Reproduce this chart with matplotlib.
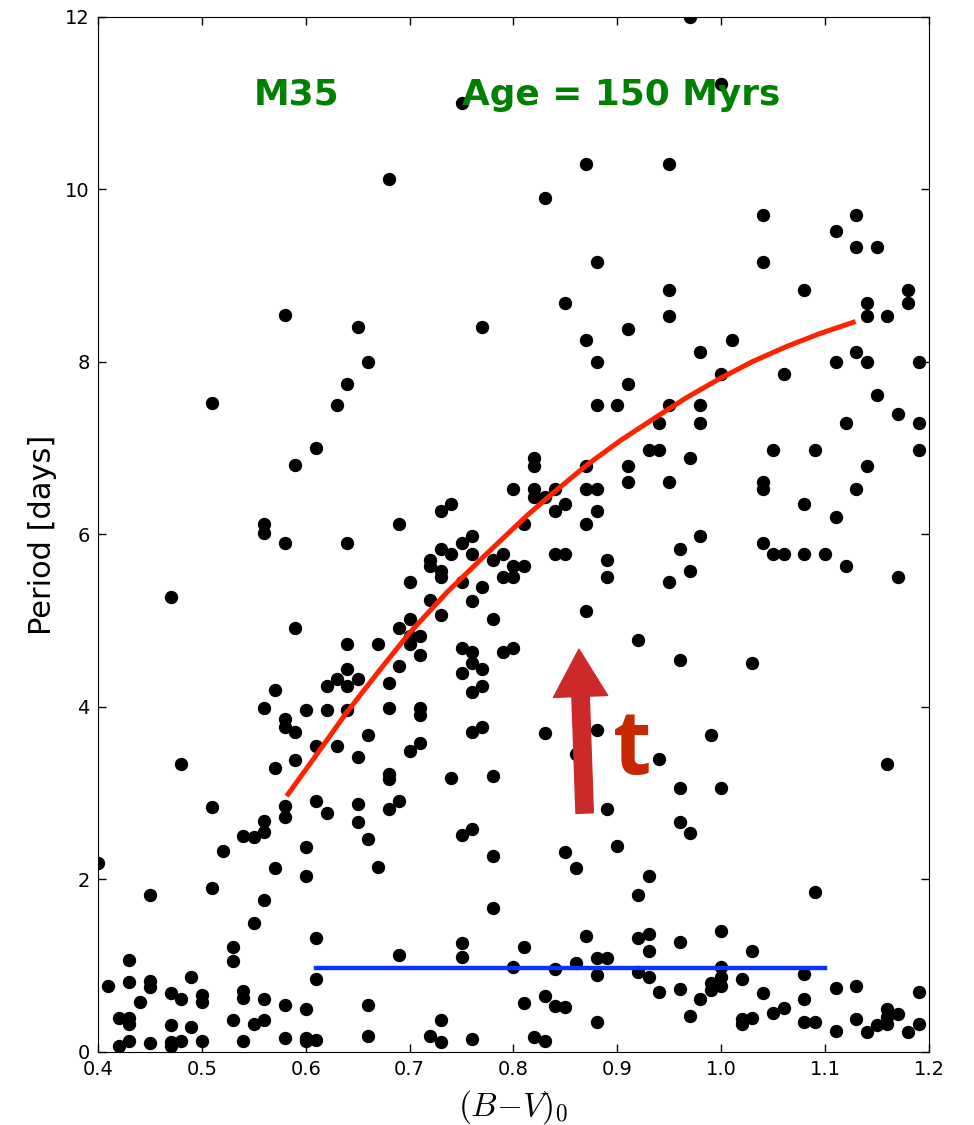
import matplotlib
matplotlib.use('Agg')
import matplotlib.pyplot as plt
from matplotlib.patches import FancyArrowPatch, ArrowStyle


plt.rcParams['mathtext.fontset'] = 'cm'

# M35 rotation periods vs. dereddened colour
bv = [
    0.75, 0.68, 0.58, 0.65, 0.77, 0.66,
    0.97, 1.00, 0.87, 0.95, 0.83, 1.04, 1.13, 1.11, 1.13, 1.15, 0.88, 1.04,
    0.85, 0.95, 1.08, 1.18, 1.14, 1.18, 0.95, 1.14, 1.16, 0.91, 0.87, 1.01,
    0.98, 1.13, 0.88, 1.11, 1.14, 1.19,
    0.64, 0.51, 0.63, 0.61, 0.59, 0.56, 0.56, 0.58, 0.64, 0.69, 0.73, 0.74,
    0.47, 0.75, 0.76, 0.73, 0.74, 0.76, 0.72, 0.72, 0.73, 0.73, 0.70, 0.75,
    0.77, 0.79, 0.78, 0.79, 0.76, 0.72, 0.73, 0.59, 0.70, 0.69, 0.78, 0.70,
    0.71, 0.70, 0.64, 0.67, 0.71, 0.75, 0.76, 0.76, 0.75, 0.77, 0.76, 0.77,
    0.79, 0.69, 0.68, 0.64, 0.63, 0.65, 0.62, 0.64, 0.57, 0.56, 0.60, 0.62,
    0.64, 0.68, 0.71,
    1.00, 1.06, 0.91, 1.15, 0.88, 0.90, 0.95, 0.98, 1.17, 0.94, 0.98, 1.12,
    1.19, 0.93, 0.94, 1.05, 1.09, 1.19, 0.97, 1.14, 0.91, 0.91, 0.95, 1.04,
    1.04, 1.13, 0.82, 0.82, 0.87, 0.80, 0.82, 0.82, 0.83, 0.84, 0.87, 0.88,
    0.84, 0.85, 0.88, 0.87, 0.81, 1.08, 1.11, 0.98, 0.96, 1.04, 1.05, 1.06,
    1.08, 1.10, 1.12, 1.17, 0.97, 0.95, 0.89, 0.89, 0.84, 0.85, 0.80, 0.81,
    0.80, 0.87, 0.92, 0.96, 1.03, 0.80,
    0.58, 0.58, 0.59, 0.71, 0.61, 0.63, 0.66, 0.59, 0.57, 0.65, 0.70, 0.71,
    0.76, 0.77, 0.74, 0.78, 0.68, 0.68, 0.48, 0.51, 0.58, 0.58, 0.61, 0.62,
    0.65, 0.65, 0.68, 0.69, 0.66, 0.56, 0.56, 0.54, 0.55, 0.52, 0.60, 0.57,
    0.67, 0.60, 0.75, 0.76, 0.78, 0.78, 0.40, 0.51, 0.45, 0.56, 0.55, 0.61,
    0.53, 0.53, 0.43, 0.69, 0.75, 0.75, 0.61, 0.41, 0.43, 0.45, 0.45, 0.49,
    0.44, 0.47, 0.48, 0.50, 0.50, 0.54, 0.54, 0.56, 0.58, 0.60, 0.66, 0.42,
    0.43, 0.43, 0.47, 0.49, 0.53, 0.55, 0.56, 0.73, 0.42, 0.43, 0.45, 0.47,
    0.47, 0.48, 0.50, 0.54, 0.58, 0.60, 0.60, 0.61, 0.66, 0.72, 0.73, 0.76,
    0.83, 0.88, 0.99, 0.86, 0.94, 1.16, 0.96, 1.00, 0.89, 0.96, 0.97, 0.90,
    0.85, 0.86, 0.93, 0.92, 1.09, 0.87, 0.92, 0.93, 0.93, 0.96, 1.00, 1.03,
    0.81, 0.80, 0.84, 0.86, 0.88, 0.89, 0.88, 0.92, 0.93, 1.00, 1.00, 0.99,
    0.99, 1.00, 1.02, 1.08, 0.94, 0.96, 0.98, 1.04, 1.11, 1.13, 1.19, 0.81,
    0.83, 0.84, 0.85, 1.08, 1.06, 1.05, 0.97, 1.02, 1.02, 1.03, 0.88, 1.08,
    1.09, 1.13, 1.16, 1.17, 1.16, 1.16, 1.15, 1.19, 1.11, 1.14, 1.18, 0.82,
    0.83,
]
period = [
    11.00, 10.12, 8.54, 8.40, 8.40, 8.00,
    12.00, 11.22, 10.30, 10.30, 9.90, 9.70, 9.70, 9.52, 9.33, 9.33, 9.16, 9.16,
    8.68, 8.83, 8.83, 8.84, 8.68, 8.68, 8.53, 8.53, 8.53, 8.38, 8.25, 8.25,
    8.12, 8.12, 8.00, 8.00, 8.00, 8.00,
    7.75, 7.52, 7.50, 7.00, 6.80, 6.12, 6.02, 5.90, 5.90, 6.12, 6.27, 6.35,
    5.28, 5.90, 5.98, 5.83, 5.77, 5.77, 5.70, 5.63, 5.58, 5.51, 5.45, 5.45,
    5.39, 5.77, 5.70, 5.51, 5.23, 5.24, 5.07, 4.92, 5.02, 4.92, 5.02, 4.82,
    4.82, 4.73, 4.73, 4.73, 4.60, 4.68, 4.64, 4.51, 4.39, 4.44, 4.17, 4.24,
    4.64, 4.48, 4.28, 4.44, 4.32, 4.32, 4.24, 4.24, 4.20, 3.99, 3.96, 3.96,
    3.96, 3.99, 3.99,
    7.86, 7.86, 7.75, 7.62, 7.50, 7.50, 7.50, 7.50, 7.40, 7.29, 7.29, 7.29,
    7.29, 6.98, 6.98, 6.98, 6.98, 6.98, 6.89, 6.79, 6.79, 6.61, 6.61, 6.61,
    6.53, 6.53, 6.89, 6.79, 6.79, 6.53, 6.53, 6.44, 6.44, 6.53, 6.53, 6.53,
    6.27, 6.35, 6.27, 6.12, 6.12, 6.35, 6.20, 5.98, 5.83, 5.90, 5.77, 5.77,
    5.77, 5.77, 5.63, 5.51, 5.58, 5.45, 5.70, 5.51, 5.77, 5.77, 5.63, 5.63,
    5.51, 5.11, 4.78, 4.55, 4.51, 4.68,
    3.86, 3.77, 3.71, 3.91, 3.55, 3.55, 3.68, 3.38, 3.29, 3.42, 3.49, 3.58,
    3.71, 3.77, 3.18, 3.20, 3.22, 3.17, 3.34, 2.84, 2.85, 2.73, 2.91, 2.77,
    2.88, 2.67, 2.82, 2.91, 2.47, 2.68, 2.55, 2.50, 2.49, 2.33, 2.38, 2.13,
    2.15, 2.04, 2.52, 2.59, 2.27, 1.67, 2.19, 1.90, 1.82, 1.76, 1.50, 1.32,
    1.22, 1.06, 1.07, 1.12, 1.26, 1.10, 0.85, 0.77, 0.81, 0.82, 0.75, 0.87,
    0.58, 0.68, 0.62, 0.66, 0.58, 0.71, 0.63, 0.61, 0.54, 0.50, 0.54, 0.39,
    0.39, 0.32, 0.31, 0.29, 0.37, 0.32, 0.37, 0.37, 0.07, 0.13, 0.10, 0.12,
    0.07, 0.13, 0.13, 0.13, 0.16, 0.16, 0.13, 0.14, 0.19, 0.19, 0.12, 0.15,
    3.70, 3.73, 3.68, 3.46, 3.40, 3.34, 3.06, 3.06, 2.82, 2.67, 2.54, 2.39,
    2.32, 2.13, 2.04, 1.82, 1.85, 1.35, 1.32, 1.37, 1.17, 1.28, 1.40, 1.17,
    1.22, 0.99, 0.96, 1.03, 1.09, 1.09, 0.89, 0.93, 0.87, 0.99, 0.87, 0.80,
    0.72, 0.76, 0.85, 0.90, 0.70, 0.73, 0.61, 0.68, 0.74, 0.76, 0.69, 0.57,
    0.65, 0.53, 0.52, 0.61, 0.51, 0.45, 0.42, 0.38, 0.32, 0.39, 0.35, 0.35,
    0.35, 0.38, 0.50, 0.44, 0.41, 0.32, 0.31, 0.32, 0.24, 0.23, 0.23, 0.17,
    0.13,
]

# gyrochrone traced through the slow-rotator sequence
gyro_bv = [0.583, 0.607, 0.639, 0.672, 0.700, 0.736, 0.771, 0.813, 0.838,
           0.870, 0.903, 0.941, 0.967, 0.999, 1.031, 1.063, 1.095, 1.127]
gyro_p = [2.99, 3.39, 3.93, 4.44, 4.86, 5.33, 5.74, 6.22, 6.48,
          6.80, 7.09, 7.39, 7.59, 7.81, 8.01, 8.18, 8.33, 8.46]

# fast-rotator level
fast_bv = [0.61, 1.10]
fast_p = [0.97, 0.97]


fig = plt.figure(figsize=(9.74, 11.25), dpi=100)
ax = fig.add_axes([0.1006, 0.0649, 0.8532, 0.92])

ax.plot(bv, period, 'o', color='black', markersize=8.6, zorder=2)
ax.plot(gyro_bv, gyro_p, '-', color='#ff2200', linewidth=3.6,
        solid_joinstyle='round', zorder=3)
ax.plot(fast_bv, fast_p, '-', color='#0a32ff', linewidth=3.2, zorder=3)

arrow = FancyArrowPatch((0.8685, 2.77), (0.863, 4.67),
                        arrowstyle=ArrowStyle('Simple', head_length=34,
                                              head_width=39, tail_width=12.5),
                        shrinkA=0, shrinkB=0, color='#cc2a2a', zorder=4)
ax.add_patch(arrow)
ax.text(0.896, 3.22, 't', color='#c82800', fontsize=64, fontweight='bold',
        family='Open Sans', zorder=5)

ax.text(0.55, 10.98, 'M35', color='green', fontsize=25.8, fontweight='bold')
ax.text(0.75, 10.98, 'Age = 150 Myrs', color='green', fontsize=25.8,
        fontweight='bold')

ax.set_xlim(0.4, 1.2)
ax.set_ylim(0, 12)
ax.set_xticks([0.4, 0.5, 0.6, 0.7, 0.8, 0.9, 1.0, 1.1, 1.2])
ax.set_yticks([0, 2, 4, 6, 8, 10, 12])
ax.tick_params(direction='in', top=True, right=True, length=6, width=1,
               labelsize=14, pad=6)
ax.set_xlabel(r'$(B{-}V)_0$', fontsize=24, labelpad=6)
ax.set_ylabel('Period [days]', fontsize=22, labelpad=6)

fig.savefig('out.png', dpi=100)
